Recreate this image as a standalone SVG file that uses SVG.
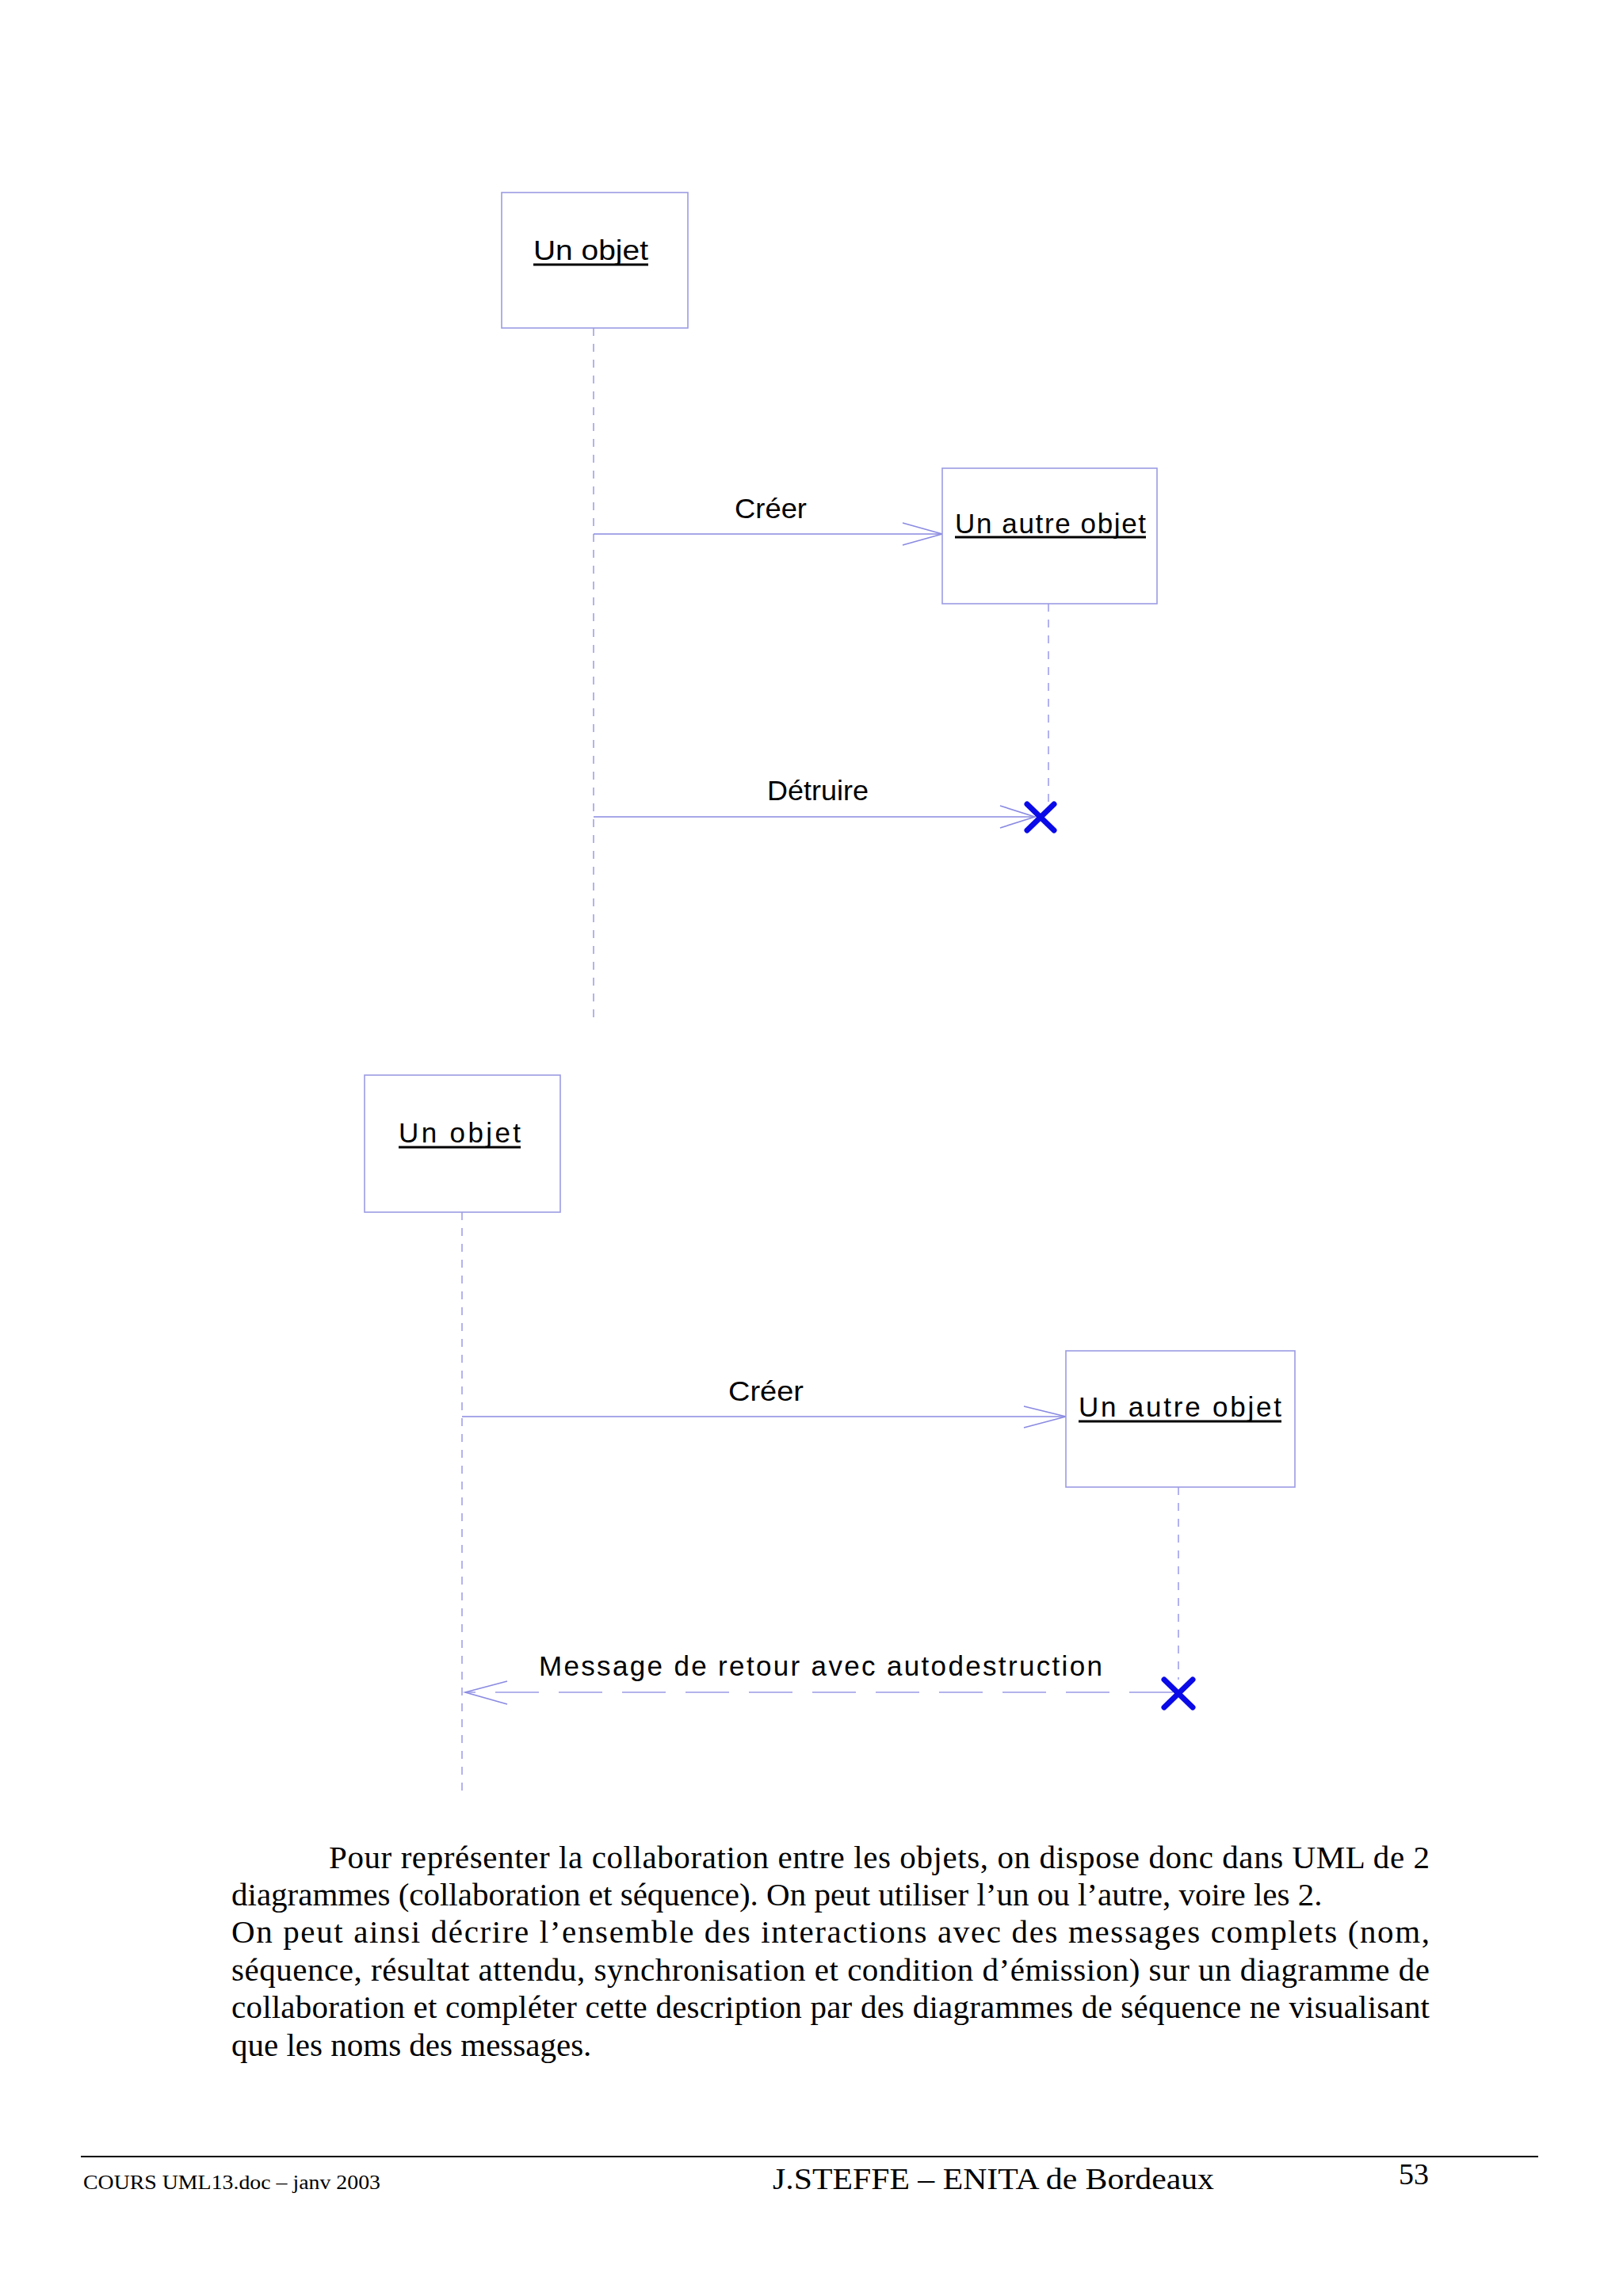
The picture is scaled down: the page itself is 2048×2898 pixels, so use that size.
<svg xmlns="http://www.w3.org/2000/svg" width="2048" height="2898" viewBox="0 0 2048 2898">
<style>
.box{fill:#ffffff;stroke:#9c9ce4;stroke-width:1.6}
.life{stroke:#a0a0ec;stroke-width:1.6;stroke-dasharray:10 10;fill:none}
.msg{stroke:#8a8ae2;stroke-width:1.6;fill:none}
.ret{stroke:#9a9ae6;stroke-width:1.6;stroke-dasharray:55 25;fill:none}
.head{stroke:#8a8ae2;stroke-width:1.6;fill:none}
.x{stroke:#0a0ae8;stroke-width:7;stroke-linecap:round;fill:none}
.ul{stroke:#000;stroke-width:3}
.lbl{font-family:"Liberation Sans",Arial,sans-serif;font-size:35px;fill:#000}
.obj{font-family:"Liberation Sans",Arial,sans-serif;font-size:35px;fill:#000}
.body{font-family:"Liberation Serif","Times New Roman",serif;font-size:41px;fill:#000}
.foot{font-family:"Liberation Serif","Times New Roman",serif;fill:#000}
</style>
<rect width="2048" height="2898" fill="#ffffff"/>

<g id="connectors">
  <line class="life" x1="749" y1="414" x2="749" y2="1293"/>
  <line class="life" x1="1323" y1="762" x2="1323" y2="1015"/>
  <line class="life" x1="583" y1="1530" x2="583" y2="2267"/>
  <line class="life" x1="1487" y1="1877" x2="1487" y2="2120"/>
  <g id="msg-creer-1">
    <line class="msg" x1="749" y1="674" x2="1189" y2="674"/>
    <polyline class="head" points="1139,660 1189,674 1139,688"/>
  </g>
  <g id="msg-detruire">
    <line class="msg" x1="749" y1="1031" x2="1306" y2="1031"/>
    <polyline class="head" points="1262,1017 1306,1031 1262,1045"/>
  </g>
  <g id="msg-creer-2">
    <line class="msg" x1="583" y1="1788" x2="1345" y2="1788"/>
    <polyline class="head" points="1292,1775 1345,1788 1292,1802"/>
  </g>
  <g id="msg-retour">
    <line class="ret" x1="1480" y1="2136" x2="587" y2="2136"/>
    <polyline class="head" points="640,2122 587,2136 640,2151"/>
  </g>
</g>

<g id="obj1">
  <rect class="box" x="633" y="243" width="235" height="171"/>
  <text class="obj" x="673" y="328" textLength="145" lengthAdjust="spacingAndGlyphs">Un objet</text>
  <line class="ul" x1="673" y1="334" x2="818" y2="334"/>
</g>
<g id="obj2">
  <rect class="box" x="1189" y="591" width="271" height="171"/>
  <text class="obj" x="1205" y="673" textLength="241" lengthAdjust="spacing">Un autre objet</text>
  <line class="ul" x1="1205" y1="678" x2="1446" y2="678"/>
</g>
<g id="destroy1">
  <path class="x" d="M1296,1015 L1330,1048 M1330,1015 L1296,1048"/>
</g>
<text class="lbl" x="927" y="654" textLength="91" lengthAdjust="spacingAndGlyphs">Créer</text>
<text class="lbl" x="968" y="1010" textLength="128" lengthAdjust="spacingAndGlyphs">Détruire</text>

<g id="obj3">
  <rect class="box" x="460" y="1357" width="247" height="173"/>
  <text class="obj" x="503" y="1442" textLength="154" lengthAdjust="spacing">Un objet</text>
  <line class="ul" x1="503" y1="1448" x2="657" y2="1448"/>
</g>
<g id="obj4">
  <rect class="box" x="1345" y="1705" width="289" height="172"/>
  <text class="obj" x="1361" y="1788" textLength="256" lengthAdjust="spacing">Un autre objet</text>
  <line class="ul" x1="1361" y1="1794" x2="1617" y2="1794"/>
</g>
<g id="destroy2">
  <path class="x" d="M1469,2120 L1505,2155 M1505,2120 L1469,2155"/>
</g>
<text class="lbl" x="919" y="1768" textLength="95" lengthAdjust="spacingAndGlyphs">Créer</text>
<text class="lbl" x="680" y="2115" textLength="711" lengthAdjust="spacing">Message de retour avec autodestruction</text>

<g id="paragraph">
  <text class="body" x="415" y="2358" textLength="1389" lengthAdjust="spacing">Pour représenter la collaboration entre les objets, on dispose donc dans UML de 2</text>
  <text class="body" x="292" y="2405">diagrammes (collaboration et séquence). On peut utiliser l’un ou l’autre, voire les 2.</text>
  <text class="body" x="292" y="2452" textLength="1512" lengthAdjust="spacing">On peut ainsi décrire l’ensemble des interactions avec des messages complets (nom,</text>
  <text class="body" x="292" y="2500" textLength="1512" lengthAdjust="spacing">séquence, résultat attendu, synchronisation et condition d’émission) sur un diagramme de</text>
  <text class="body" x="292" y="2547" textLength="1512" lengthAdjust="spacing">collaboration et compléter cette description par des diagrammes de séquence ne visualisant</text>
  <text class="body" x="292" y="2595">que les noms des messages.</text>
</g>

<g id="footer">
  <line x1="102" y1="2722" x2="1941" y2="2722" stroke="#000" stroke-width="2"/>
  <text class="foot" x="105" y="2763" font-size="26" textLength="375" lengthAdjust="spacingAndGlyphs">COURS UML13.doc – janv 2003</text>
  <text class="foot" x="975" y="2763" font-size="37" textLength="557" lengthAdjust="spacingAndGlyphs">J.STEFFE – ENITA de Bordeaux</text>
  <text class="foot" x="1765" y="2757" font-size="38">53</text>
</g>
</svg>
